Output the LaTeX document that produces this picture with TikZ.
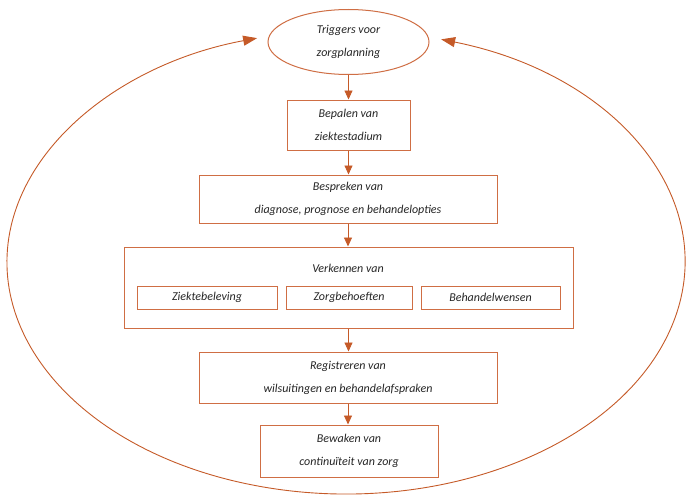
\documentclass[tikz,border=0pt]{standalone}
\usepackage{fontspec}
\setmainfont{Carlito}
\usetikzlibrary{arrows.meta,shapes.geometric}
\definecolor{lc}{HTML}{C55A28}
\definecolor{bc}{HTML}{CF6E44}
\definecolor{tc}{HTML}{262626}
\tikzset{
  txt/.style={font=\fontsize{12}{23}\selectfont\itshape, text=tc, align=center},
  box/.style={draw=bc, line width=1pt, fill=white, inner sep=0pt, txt},
  sub/.style={box, minimum height=23pt},
  conn/.style={draw=lc, line width=0.9pt, -{Triangle[length=9pt,width=8pt]}},
  loop/.style={draw=lc, line width=0.9pt, {Triangle[length=14pt,width=10pt]}-{Triangle[length=14pt,width=10pt]}}
}
\begin{document}
\begin{tikzpicture}[x=1pt,y=-1pt]
\useasboundingbox (0,0) rectangle (688,495);
% loop
\coordinate (c) at (346,262);
\path (c) ++(73.7:339pt and 232pt) coordinate (rt);
\draw[loop] (rt) arc[start angle=73.7, end angle=-254.8, x radius=339pt, y radius=232pt];
% nodes
\node[box, ellipse, minimum width=161pt, minimum height=65pt] (trig) at (348.5,42) {Triggers voor\\zorgplanning};
\node[box, minimum width=123pt, minimum height=50pt] (bep) at (348.5,125) {Bepalen van\\ziektestadium};
\node[box, minimum width=298pt, minimum height=48pt] (bes) at (348,199) {Bespreken van\\diagnose, prognose en behandelopties};
\node[box, minimum width=449pt, minimum height=81pt] (ver) at (348.5,287.5) {};
\node[txt] (vert) at (348,268) {Verkennen van};
\node[sub, minimum width=140pt] (s1) at (207,297.5) {Ziektebeleving};
\node[sub, minimum width=126pt] (s2) at (349,297.5) {Zorgbehoeften};
\node[sub, minimum width=139pt] (s3) at (490.5,297.5) {Behandelwensen};
\node[box, minimum width=298pt, minimum height=51pt] (reg) at (348,377.5) {Registreren van\\wilsuitingen en behandelafspraken};
\node[box, minimum width=178pt, minimum height=52pt] (bew) at (349,451) {Bewaken van\\continuïteit van zorg};
% connectors
\draw[conn] (trig.south) -- (bep.north);
\draw[conn] (bep.south) -- (bep.south |- bes.north);
\draw[conn] (bes.south) -- (bes.south |- ver.north);
\draw[conn] (ver.south) -- (ver.south |- reg.north);
\draw[conn] (reg.south) -- (reg.south |- bew.north);
\end{tikzpicture}
\end{document}
